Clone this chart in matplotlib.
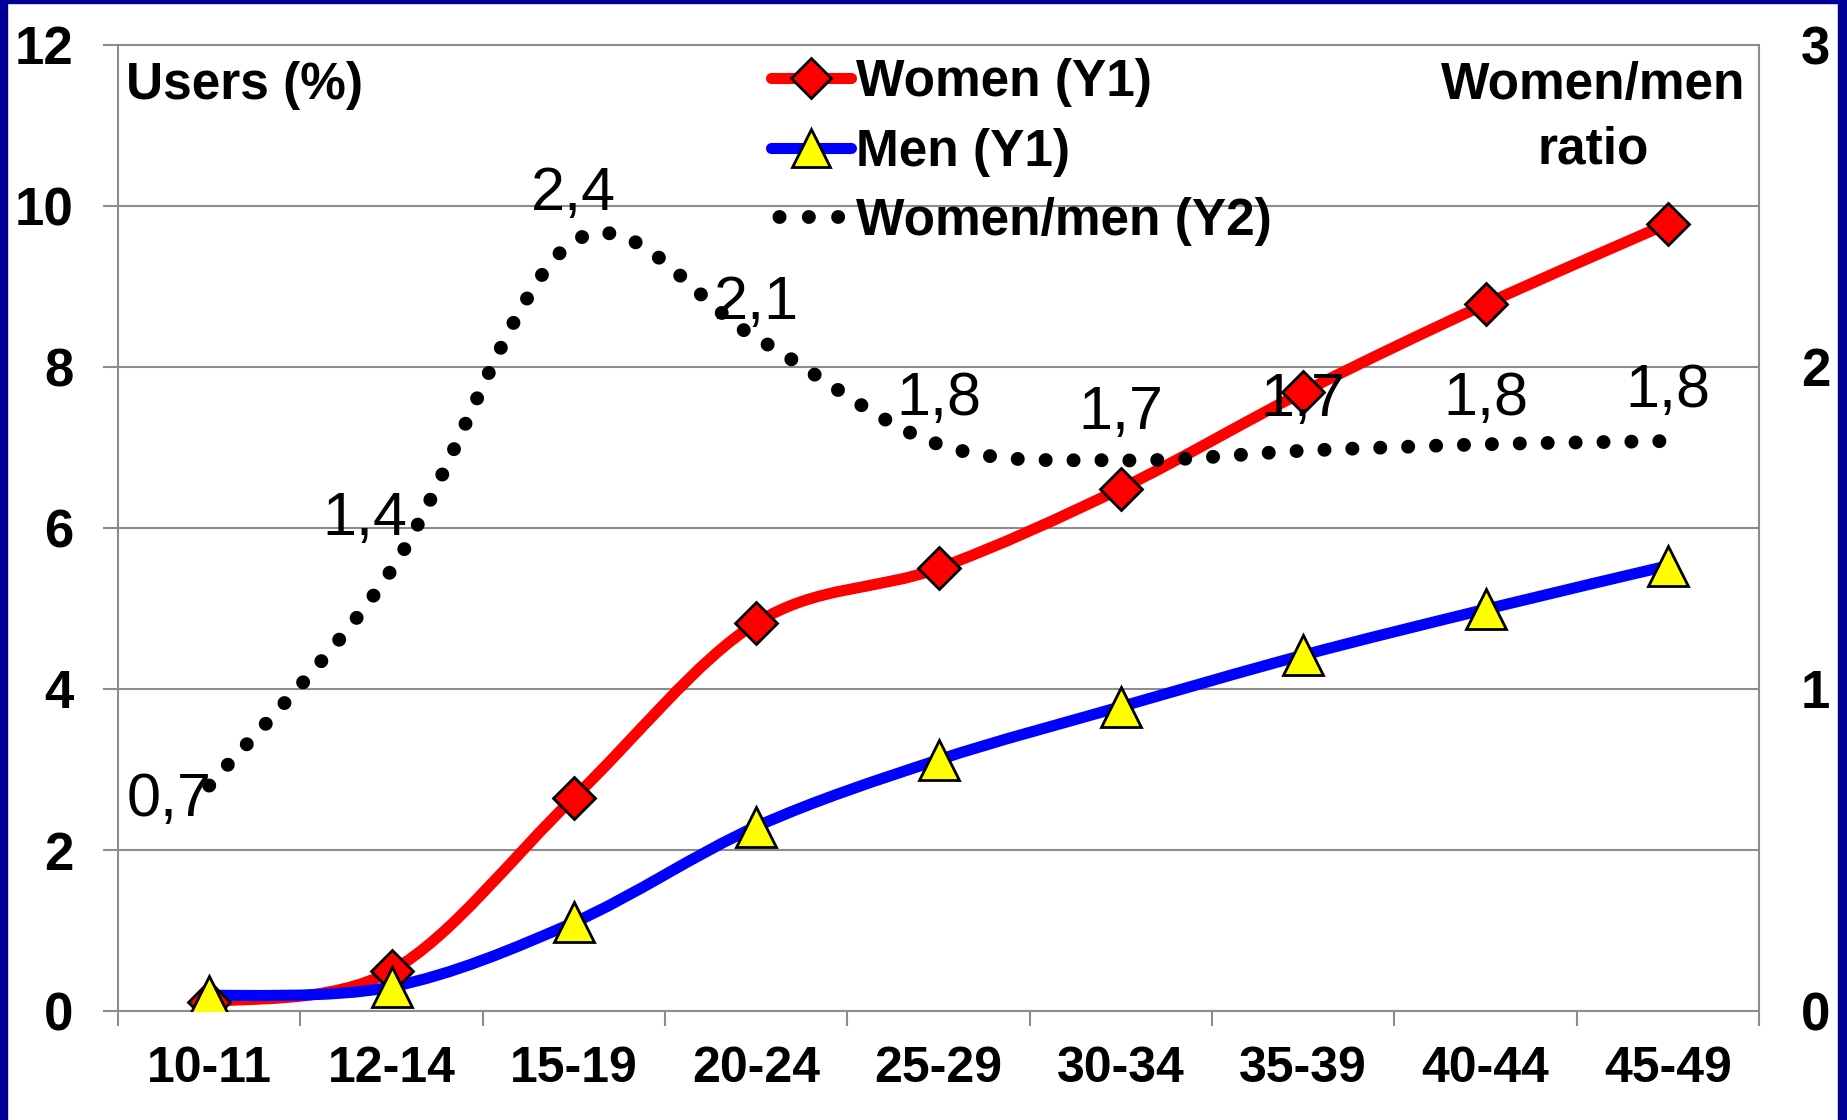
import numpy as np
import matplotlib
matplotlib.use("Agg")
import matplotlib.pyplot as plt
from matplotlib.path import Path
from matplotlib.patches import PathPatch, Rectangle
from matplotlib.lines import Line2D

plt.rcParams['font.family'] = 'Liberation Sans'
plt.rcParams['font.weight'] = 'bold'

# data
ages = ['10-11', '12-14', '15-19', '20-24', '25-29', '30-34', '35-39', '40-44', '45-49']
women = [0.11, 0.50, 2.65, 4.82, 5.50, 6.49, 7.69, 8.78, 9.78]
men = [0.19, 0.30, 1.10, 2.29, 3.12, 3.78, 4.42, 4.99, 5.53]
ratio = [0.70, 1.37, 2.39, 2.09, 1.76, 1.71, 1.74, 1.76, 1.77]

# colours
navy = '#000099'
gray = '#8c8c8c'
red = '#ff0000'
blue = '#0000ff'
yellow = '#ffff00'

# label offsets (points) for the ratio labels
lbl_off = [(-29, -11), (-19, 36), (0, 34), (0, 25), (0, 32), (0, 34), (0, 36), (0, 32), (0, 36)]


def smooth_path(xs, ys):
    # Catmull-Rom style bezier, like Excel's "smoothed line"
    n = len(xs)
    verts = [(xs[0], ys[0])]
    codes = [Path.MOVETO]
    for i in range(n - 1):
        a = max(i - 1, 0)
        d = min(i + 2, n - 1)
        c1 = (xs[i] + (xs[i + 1] - xs[a]) / 6, ys[i] + (ys[i + 1] - ys[a]) / 6)
        c2 = (xs[i + 1] - (xs[d] - xs[i]) / 6, ys[i + 1] - (ys[d] - ys[i]) / 6)
        verts += [c1, c2, (xs[i + 1], ys[i + 1])]
        codes += [Path.CURVE4] * 3
    return Path(verts, codes)


W, H = 1847, 1120
fig = plt.figure(figsize=(W / 100, H / 100), dpi=100)
fig.patch.set_facecolor('white')

# navy frame
fig.patches.append(Rectangle((0, 0), 7 / W, 1, transform=fig.transFigure, color=navy, zorder=0))
fig.patches.append(Rectangle(((W - 9) / W, 0), 9 / W, 1, transform=fig.transFigure, color=navy, zorder=0))
fig.patches.append(Rectangle((0, (H - 3) / H), 1, 3 / H, transform=fig.transFigure, color=navy, zorder=0))

ax = fig.add_axes([118 / W, (H - 1011) / H, (1759 - 118) / W, (1011 - 45) / H])
x = np.arange(len(ages))

ax.set_xlim(-0.5, len(ages) - 0.5)
ax.set_ylim(0, 12)
ax.set_yticks(np.arange(0, 13, 2))
ax.set_xticks(np.arange(-0.5, len(ages), 1))
ax.set_xticklabels([])
ax.set_xticks(x, minor=True)
ax.set_xticklabels(ages, minor=True)
ax.tick_params(axis='x', which='major', length=11, width=1.5, color=gray, direction='out')
ax.tick_params(axis='x', which='minor', length=0, pad=25, labelsize=36)
ax.tick_params(axis='y', left=True, right=True, length=11, width=1.5, color=gray,
               direction='out', pad=21, labelsize=38)
ax.yaxis.grid(True, color=gray, lw=1.5)
ax.set_axisbelow(True)
for s in ax.spines.values():
    s.set_color(gray)
    s.set_linewidth(1.5)

# smoothed lines + markers
ax.add_patch(PathPatch(smooth_path(x, women), fill=False, edgecolor=red, lw=8,
                       capstyle='round', zorder=3))
ax.add_patch(PathPatch(smooth_path(x, men), fill=False, edgecolor=blue, lw=8,
                       capstyle='round', zorder=3))
ax.plot(x, women, ls='none', marker='D', ms=21, mfc=red, mec='black', mew=2, zorder=4)
ax.plot(x, men, ls='none', marker='^', ms=29, mfc=yellow, mec='black', mew=2, zorder=5)

ax2 = ax.twinx()
ax2.set_ylim(0, 3)
ax2.set_yticks([0, 1, 2, 3])
ax2.tick_params(axis='y', length=0, pad=30, labelsize=38)
for s in ax2.spines.values():
    s.set_visible(False)

dots = (0, (0.01, 2.0))
ax2.add_patch(PathPatch(smooth_path(x, ratio), fill=False, edgecolor='black', lw=10,
                        linestyle=dots, capstyle='round', zorder=3))

for xi, r, off in zip(x, ratio, lbl_off):
    ax2.annotate(f'{r:.1f}'.replace('.', ','), (xi, r), xytext=off, textcoords='offset points',
                 ha='center', va='center', fontsize=44, fontweight='normal', zorder=6)

# axis titles inside the plot
fig.text(126 / W, 1 - 86 / H, 'Users (%)', fontsize=37, ha='left', va='center')
fig.text(1593 / W, 1 - 118 / H, 'Women/men\nratio', fontsize=37, ha='center', va='center',
         multialignment='center', linespacing=1.4)

handles = [
    Line2D([], [], color=red, lw=8, solid_capstyle='round', marker='D', ms=20,
           mfc=red, mec='black', mew=2),
    Line2D([], [], color=blue, lw=8, solid_capstyle='round', marker='^', ms=27,
           mfc=yellow, mec='black', mew=2),
    Line2D([], [], color='black', lw=10, linestyle=(1.5, (0.01, 2.1)), dash_capstyle='round'),
]
ax2.legend(handles, ['Women (Y1)', 'Men (Y1)', 'Women/men (Y2)'], loc='upper left',
           bbox_to_anchor=(771 / W, 1 - 58 / H), bbox_transform=fig.transFigure,
           frameon=False, fontsize=37, handlelength=1.56, handletextpad=0.1,
           borderpad=0, borderaxespad=0, labelspacing=0.40, numpoints=1)

fig.savefig('out.png', dpi=100)
